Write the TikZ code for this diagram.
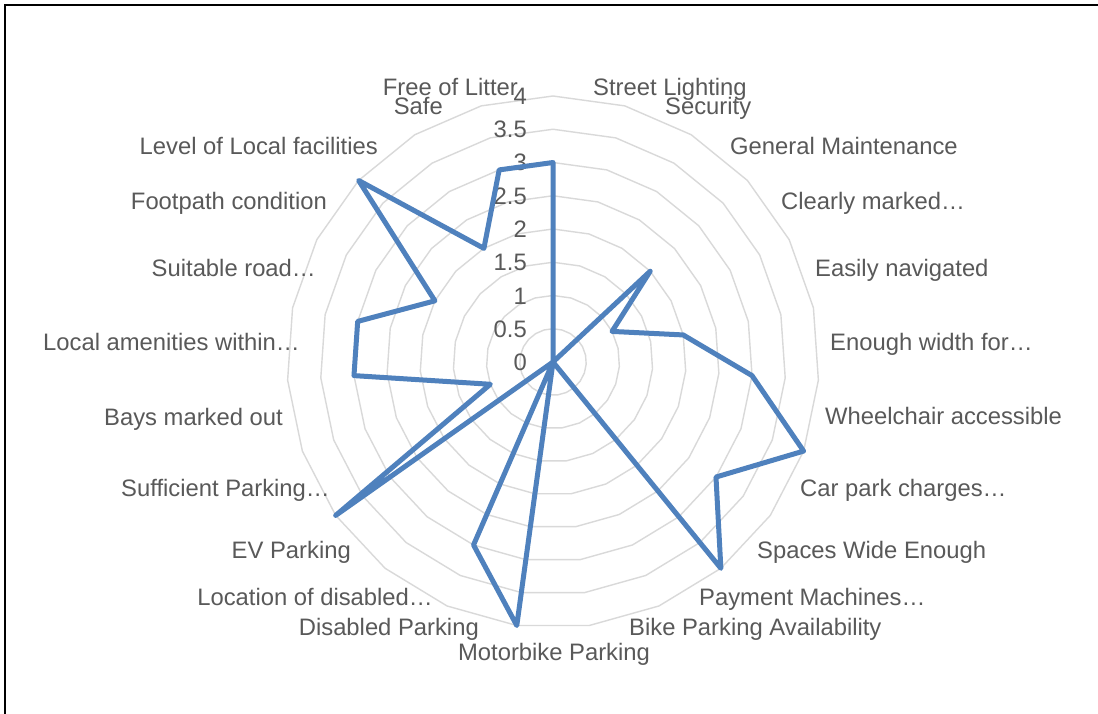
\documentclass[tikz,border=0pt]{standalone}
\usepackage{fontspec}
\setmainfont{Liberation Sans}
\definecolor{txtgrey}{HTML}{595959}
\definecolor{gridgrey}{HTML}{D9D9D9}
\definecolor{serblue}{HTML}{4F81BD}
\begin{document}
\begin{tikzpicture}[x=1pt,y=-1pt,
  gridring/.style={draw=gridgrey,line width=1.4pt,line join=round},
  dataline/.style={draw=serblue,line width=5pt,line join=round,line cap=round},
  frameline/.style={draw=black,line width=2pt},
  lbl/.style={text=txtgrey,inner sep=0pt,font=\fontsize{23.8}{28}\selectfont},
  rlbl/.style={lbl,anchor=base west},
  llbl/.style={lbl,anchor=base east},
  clbl/.style={lbl,anchor=base},
  ticklbl/.style={lbl,anchor=base east}]
\useasboundingbox (0,0) rectangle (1098,714);
\fill[white] (0,0) rectangle (1098,714);
% frame
\draw[frameline] (5,714) -- (5,5) -- (1098,5);
% centre
\coordinate (c) at (553,362);
% grid rings
\foreach \k in {1,...,8}{
  \draw[gridring] (553,{362-\k*33.25})
    \foreach \i in {1,...,22}{ -- ({553+\k*33.25*sin(\i*360/23)},{362-\k*33.25*cos(\i*360/23)}) } -- cycle;
}
% value axis labels
\foreach \v/\t in {0/0,0.5/0.5,1/1,1.5/1.5,2/2,2.5/2.5,3/3,3.5/3.5,4/4}{
  \node[ticklbl] (tick\t) at (527,{362-\v*66.5+8.5}) {\t};
}
% data points
\foreach \v [count=\i from 0] in {3,0,0,2,1,2,3,4,3,4,0,0,4,3,0,4,1,3,3,2,4,2,3}{
  \coordinate (d\i) at ({553+\v*66.5*sin(\i*360/23)},{362-\v*66.5*cos(\i*360/23)});
}
\draw[dataline] (d0) -- (d1) -- (d2) -- (d3) -- (d4) -- (d5) -- (d6) -- (d7) -- (d8) -- (d9) -- (d10) -- (d11) -- (d12) -- (d13) -- (d14) -- (d15) -- (d16) -- (d17) -- (d18) -- (d19) -- (d20) -- (d21) -- (d22) -- cycle;
% category labels
\node[rlbl] (l1) at (593,95.5) {Street Lighting};
\node[rlbl] (l2) at (665,114.5) {Security};
\node[rlbl] (l3) at (730,154.5) {General Maintenance};
\node[rlbl] (l4) at (781,209.5) {Clearly marked…};
\node[rlbl] (l5) at (815,276.5) {Easily navigated};
\node[rlbl] (l6) at (830,350.5) {Enough width for…};
\node[rlbl] (l7) at (825,424.5) {Wheelchair accessible};
\node[rlbl] (l8) at (800,496.5) {Car park charges…};
\node[rlbl] (l9) at (757,558.5) {Spaces Wide Enough};
\node[rlbl] (l10) at (699,605.5) {Payment Machines…};
\node[rlbl] (l11) at (629,635.5) {Bike Parking Availability};
\node[clbl] (l12) at (554,660.5) {Motorbike Parking};
\node[llbl] (l13) at (479,635.5) {Disabled Parking};
\node[llbl] (l14) at (433,605.5) {Location of disabled…};
\node[llbl] (l15) at (351,558.5) {EV Parking};
\node[llbl] (l16) at (330,496.5) {Sufficient Parking…};
\node[llbl] (l17) at (283,425.5) {Bays marked out};
\node[llbl] (l18) at (300,350.5) {Local amenities within…};
\node[llbl] (l19) at (316,276.5) {Suitable road…};
\node[llbl] (l20) at (327,209.5) {Footpath condition};
\node[llbl] (l21) at (378,154.5) {Level of Local facilities};
\node[llbl] (l22) at (443,114.5) {Safe};
\node[llbl] (l0) at (518,95.5) {Free of Litter};
\end{tikzpicture}
\end{document}
